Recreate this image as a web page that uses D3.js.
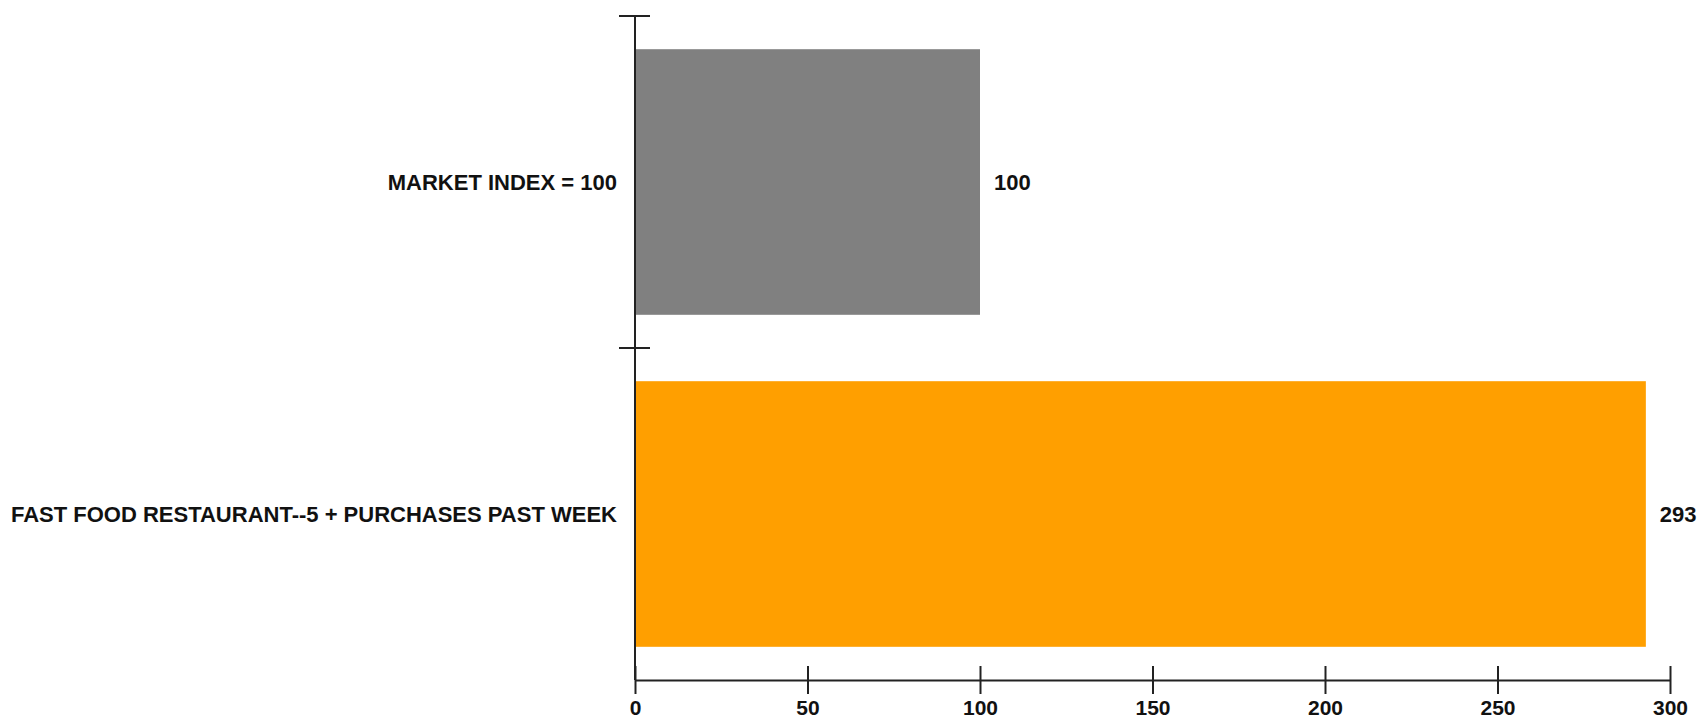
<!DOCTYPE html>
<meta charset="utf-8">
<head>
  <script src="https://d3js.org/d3.v7.min.js"></script>
  <style>
    body { margin: 0; background: #fff; }
    svg text { font-family: "Liberation Sans", Arial, sans-serif; font-weight: bold; fill: #111; }
  </style>
</head>
<body>
<div id="chart"></div>
<script>
  "use strict"

  // dados
  var categorias = ["MARKET INDEX = 100", "FAST FOOD RESTAURANT--5 + PURCHASES PAST WEEK"];
  var valores = [100, 293];
  var cores = ["#808080", "#FF9F00"];
  var ticksX = [0, 50, 100, 150, 200, 250, 300];

  var larguraSVG = 1700, alturaSVG = 721;
  var margin = {top: 16, right: 30, bottom: 41, left: 635},
      larguraVis = 1035,
      alturaVis = alturaSVG - margin.top - margin.bottom;

  var grafico = d3.select('#chart')
                  .append('svg')
                    .attr('width', larguraSVG)
                    .attr('height', alturaSVG)
                  .append('g')
                    .attr('transform', 'translate(' + margin.left + ',' + margin.top + ')');

  var x = d3.scaleLinear()
            .domain([0, 300])
            .range([0, larguraVis]);

  var y = d3.scaleBand()
            .domain(categorias)
            .range([0, alturaVis])
            .paddingInner(0.2)
            .paddingOuter(0.1);

  grafico.selectAll('rect.barra')
         .data(valores)
         .enter()
         .append('rect')
         .attr('class', 'barra')
         .attr('x', x(0) + 1)
         .attr('y', function(d, i) { return y(categorias[i]); })
         .attr('width', function(d) { return x(d) - x(0) - 1; })
         .attr('height', y.bandwidth())
         .style('fill', function(d, i) { return cores[i]; });

  // rótulos de valor
  grafico.selectAll('text.valor')
         .data(valores)
         .enter()
         .append('text')
         .attr('class', 'valor')
         .attr('x', function(d) { return x(d) + 14; })
         .attr('y', function(d, i) { return y(categorias[i]) + y.bandwidth() / 2; })
         .attr('dy', '0.35em')
         .style('font-size', '22px')
         .text(function(d) { return d; });

  // eixo x
  var eixoX = grafico.append('g')
         .attr('transform', 'translate(0,' + alturaVis + ')')
         .call(d3.axisBottom(x).tickValues(ticksX).tickSizeOuter(0));

  eixoX.select('.domain').attr('stroke', '#222').attr('stroke-width', 2);
  eixoX.selectAll('.tick line')
       .attr('y1', -14).attr('y2', 14)
       .attr('stroke', '#222').attr('stroke-width', 2);
  eixoX.selectAll('.tick text')
       .attr('y', 35).attr('dy', 0)
       .style('font-size', '21px')
       .style('font-family', '"Liberation Sans", Arial, sans-serif')
       .style('font-weight', 'bold')
       .attr('fill', '#111');

  // eixo y: linha e marcas nos limites das faixas
  grafico.append('line')
         .attr('x1', 0).attr('x2', 0)
         .attr('y1', 0).attr('y2', alturaVis)
         .attr('stroke', '#222').attr('stroke-width', 2);

  var passo = y.step();
  var limites = categorias.map(function(c) { return y(c) - passo * y.paddingInner() / 2; });

  grafico.selectAll('line.marca')
         .data(limites)
         .enter()
         .append('line')
         .attr('class', 'marca')
         .attr('x1', -16).attr('x2', 15)
         .attr('y1', function(d) { return d; })
         .attr('y2', function(d) { return d; })
         .attr('stroke', '#222').attr('stroke-width', 2);

  grafico.selectAll('text.categoria')
         .data(categorias)
         .enter()
         .append('text')
         .attr('class', 'categoria')
         .attr('x', -18)
         .attr('y', function(d) { return y(d) + y.bandwidth() / 2; })
         .attr('dy', '0.35em')
         .attr('text-anchor', 'end')
         .style('font-size', '22px')
         .text(function(d) { return d; });
</script>
</body>
</html>
